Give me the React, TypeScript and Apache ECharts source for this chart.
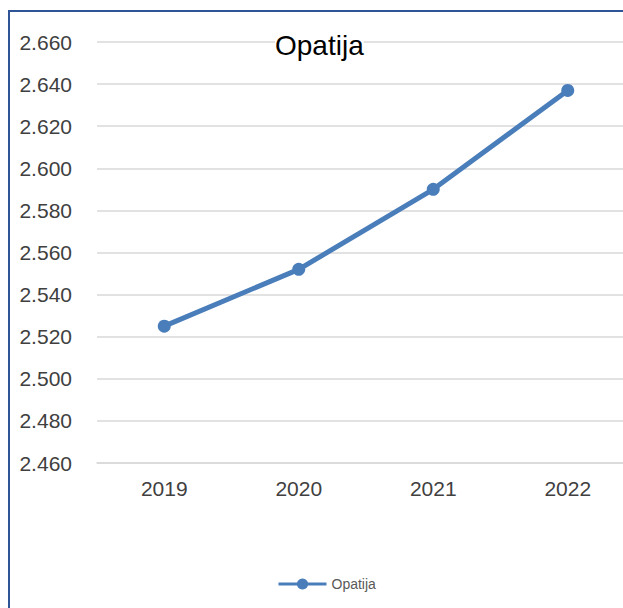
import React, { useEffect, useRef } from "react";
import * as echarts from "echarts";

const titleText = "Opatija";
const seriesName = "Opatija";
const years = ["2019", "2020", "2021", "2022"];
const values = [2525, 2552, 2590, 2637];
const yMin = 2460;
const yMax = 2660;
const yStep = 20;

function fmt(v: number): string {
  const t = Math.floor(v / 1000);
  const r = Math.round(v % 1000);
  return t + "." + String(r).padStart(3, "0");
}

export default function App() {
  const ref = useRef<HTMLDivElement>(null);
  useEffect(() => {
    if (!ref.current) return;
    document.body.style.overflow = "hidden";
    const chart = echarts.init(ref.current, undefined, { renderer: "svg" });
    chart.setOption({
      animation: false,
      backgroundColor: "#fff",
      title: {
        text: titleText,
        left: 275,
        top: 31,
        padding: 0,
        backgroundColor: "#fff",
        textStyle: {
          fontFamily: "Liberation Sans",
          fontSize: 28,
          fontWeight: "normal",
          color: "#000",
        },
      },
      legend: {
        data: [seriesName],
        left: 277,
        top: 577,
        padding: 0,
        itemWidth: 48,
        itemHeight: 14,
        itemGap: 4,
        lineStyle: { width: 3 },
        textStyle: {
          fontFamily: "Liberation Sans",
          fontSize: 14,
          color: "#595959",
        },
      },
      grid: { left: 97, top: 42, bottom: 145, right: 0 },
      xAxis: {
        type: "category",
        data: years,
        boundaryGap: true,
        axisLine: { lineStyle: { color: "#D9D9D9", width: 1.5 } },
        axisTick: { show: false },
        axisLabel: {
          margin: 15,
          fontFamily: "Liberation Sans",
          fontSize: 21,
          color: "#404040",
        },
      },
      yAxis: {
        type: "value",
        min: yMin,
        max: yMax,
        interval: yStep,
        axisLine: { show: false },
        axisTick: { show: false },
        splitLine: { lineStyle: { color: "#D9D9D9", width: 1.5 } },
        axisLabel: {
          margin: 25,
          fontFamily: "Liberation Sans",
          fontSize: 21,
          color: "#404040",
          formatter: (v: number) => fmt(v),
        },
      },
      series: [
        {
          name: seriesName,
          type: "line",
          data: values,
          symbol: "circle",
          symbolSize: 13,
          lineStyle: { color: "#4A7EBB", width: 5 },
          itemStyle: { color: "#4A7EBB" },
        },
      ],
      graphic: [
        {
          type: "rect",
          z: 100,
          shape: { x: 9, y: 11, width: 800, height: 800 },
          style: { fill: "none", stroke: "#2F5597", lineWidth: 2 },
        },
      ],
    });
    return () => chart.dispose();
  }, []);
  return (
    <div
      ref={ref}
      style={{ position: "fixed", left: 0, top: 0, width: 635, height: 608 }}
    />
  );
}
